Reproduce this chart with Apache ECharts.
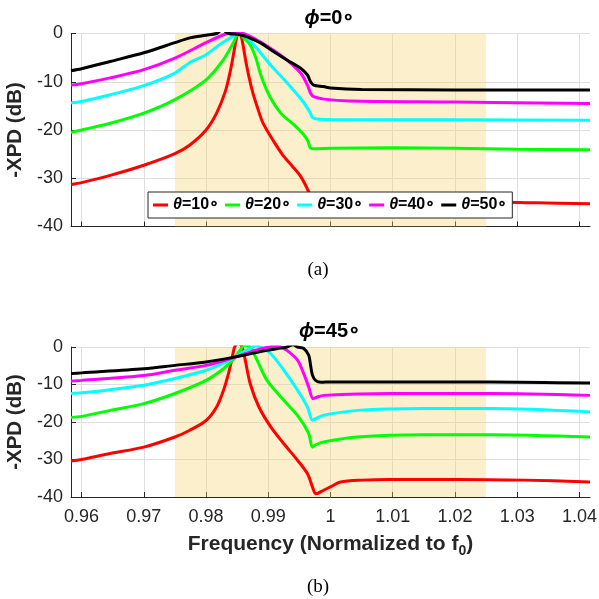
<!DOCTYPE html>
<html>
<head>
<meta charset="utf-8">
<script src="https://cdn.jsdelivr.net/npm/echarts@6/dist/echarts.min.js"></script>
<style>
  html,body{margin:0;padding:0;background:#fff}
  #c{width:599px;height:599px}
</style>
</head>
<body>
<div id="c"></div>
<script>
// ── data: [normalized frequency, -XPD dB] ──
const xTicks = [0.96, 0.97, 0.98, 0.99, 1.00, 1.01, 1.02, 1.03, 1.04];
const yTicks = [0, -10, -20, -30, -40];
const names = ['θ=10∘', 'θ=20∘', 'θ=30∘', 'θ=40∘', 'θ=50∘'];
const colors = ['#ff0000', '#00ff00', '#00ffff', '#ff00ff', '#000000'];
const band = [0.975, 1.025];

// phi = 0
const red0 = [[0.9583,-31.3],[0.96,-30.9],[0.9646,-29.4],[0.97,-27.3],[0.975,-24.9],[0.9774,-23.1],[0.98,-20.0],
  [0.9817,-16.5],[0.9831,-12.0],[0.9839,-7.8],[0.9845,-3.7],[0.9849,-0.9],[0.9853,0.6],[0.9857,-0.8],[0.986,-2.8],
  [0.9863,-5.1],[0.9869,-9.0],[0.9875,-12.2],[0.9883,-15.5],[0.9891,-18.4],[0.9908,-22.2],[0.9924,-25.3],
  [0.9938,-27.4],[0.9952,-29.6],[0.9965,-32.8],[0.9971,-35.0],[0.9976,-36.6],[0.9983,-36.4],[0.9995,-36.0],
  [1.002,-35.7],[1.008,-35.3],[1.015,-35.0],[1.025,-34.9],[1.033,-35.1],[1.0417,-35.3]];
const green0 = [[0.9583,-20.5],[0.96,-20.0],[0.9646,-18.6],[0.97,-16.5],[0.975,-13.7],[0.98,-9.6],[0.9828,-5.4],
  [0.9844,-1.9],[0.9853,0.1],[0.986,-0.8],[0.9871,-2.4],[0.988,-5.1],[0.9888,-8.6],[0.9901,-12.7],[0.992,-16.5],
  [0.9941,-18.9],[0.9957,-21.0],[0.9964,-22.4],[0.9968,-23.8],[0.9975,-23.9],[1.0,-23.8],[1.01,-23.7],
  [1.02,-23.8],[1.03,-24.0],[1.0417,-24.1]];
const cyan0 = [[0.9583,-14.4],[0.96,-14.1],[0.9646,-12.7],[0.97,-10.8],[0.975,-8.2],[0.9774,-6.0],[0.98,-4.4],
  [0.9823,-2.2],[0.9843,-0.6],[0.9853,0.1],[0.9863,-0.5],[0.9882,-3.1],[0.9904,-6.6],[0.993,-10.2],[0.9957,-14.3],
  [0.9968,-16.6],[0.9971,-17.4],[0.9978,-17.7],[1.0,-17.8],[1.02,-17.9],[1.0417,-18.0]];
const magenta0 = [[0.9583,-10.7],[0.96,-10.4],[0.9646,-9.2],[0.97,-7.5],[0.975,-5.1],[0.98,-1.9],[0.9833,0],
  [0.9845,0.3],[0.9858,0.1],[0.9877,-1.0],[0.9904,-3.1],[0.993,-5.5],[0.9952,-8.2],[0.9963,-10.7],[0.9968,-12.4],
  [0.9973,-13.1],[0.9989,-13.6],[1.003,-14.0],[1.02,-14.2],[1.0417,-14.5]];
const black0 = [[0.9583,-7.7],[0.96,-7.3],[0.9646,-5.8],[0.97,-4.0],[0.975,-1.9],[0.9774,-0.9],[0.98,-0.35],
  [0.9817,0],[0.9826,0.8],[0.9836,0],[0.9853,-0.2],[0.9866,-0.7],[0.9888,-2.0],[0.9909,-3.8],[0.993,-5.5],
  [0.9952,-7.2],[0.9963,-8.6],[0.9968,-10.0],[0.9973,-10.7],[0.9989,-11.0],[1.0,-11.3],[1.005,-11.6],
  [1.02,-11.7],[1.0417,-11.7]];

// phi = 45
const red45 = [[0.9583,-30.4],[0.96,-30.0],[0.9646,-28.4],[0.97,-26.7],[0.975,-24.0],[0.9774,-22.2],[0.98,-19.6],
  [0.9817,-16.0],[0.9828,-11.6],[0.9836,-7.1],[0.9841,-3.6],[0.9846,0],[0.9852,1.0],[0.9858,0],[0.9863,-3.5],
  [0.9871,-9.8],[0.9885,-16.0],[0.9904,-21.3],[0.9925,-25.8],[0.9947,-30.2],[0.9963,-33.8],[0.9971,-37.3],
  [0.9976,-39.1],[0.998,-39.0],[0.9989,-38.2],[1.0,-37.3],[1.0016,-36.0],[1.005,-35.5],[1.0096,-35.3],
  [1.0204,-35.3],[1.0311,-35.5],[1.0417,-36.0]];
const green45 = [[0.9583,-18.8],[0.96,-18.5],[0.9646,-16.9],[0.97,-15.1],[0.975,-12.4],[0.98,-8.9],[0.9828,-5.8],
  [0.9845,-3.1],[0.9855,-0.8],[0.9862,0.5],[0.9871,0],[0.9882,-3.5],[0.9898,-8.9],[0.9925,-14.2],[0.9949,-18.7],
  [0.9965,-23.1],[0.9971,-26.7],[0.9977,-26.0],[0.9989,-25.3],[1.0043,-24.0],[1.015,-23.4],[1.0257,-23.4],
  [1.0417,-24.0]];
const cyan45 = [[0.9583,-12.4],[0.96,-12.2],[0.9646,-11.4],[0.97,-10.2],[0.975,-8.4],[0.98,-6.2],[0.9828,-4.3],
  [0.9845,-2.8],[0.986,-1.3],[0.9875,0],[0.988,0.4],[0.9887,0],[0.9904,-1.8],[0.9925,-6.2],[0.9947,-11.5],
  [0.9963,-16.0],[0.9971,-19.5],[0.9978,-19.0],[0.9989,-18.2],[1.0043,-16.9],[1.015,-16.4],[1.0257,-16.4],
  [1.0417,-17.3]];
const magenta45 = [[0.9583,-9.1],[0.96,-8.9],[0.97,-7.6],[0.975,-6.2],[0.98,-4.9],[0.9845,-2.8],[0.987,-1.4],
  [0.989,-0.4],[0.9902,0],[0.991,0.3],[0.992,0],[0.993,-0.9],[0.9947,-3.5],[0.9957,-7.1],[0.9965,-10.7],
  [0.9972,-13.8],[0.9978,-13.4],[0.9989,-12.9],[1.0096,-12.4],[1.0257,-12.4],[1.0417,-12.9]];
const black45 = [[0.9583,-7.1],[0.96,-6.9],[0.97,-5.8],[0.975,-4.9],[0.98,-4.0],[0.9845,-2.7],[0.9898,-0.9],
  [0.992,-0.3],[0.993,0],[0.994,0.6],[0.9947,0],[0.9957,-0.4],[0.9965,-2.2],[0.9968,-4.9],[0.9971,-7.5],
  [0.9976,-8.9],[0.9985,-9.4],[1.0,-9.3],[1.0096,-9.3],[1.0257,-9.3],[1.0417,-9.6]];

const top0 = [red0, green0, cyan0, magenta0, black0];
const bot45 = [red45, green45, cyan45, magenta45, black45];

// ── style ──
const F = "'Liberation Sans', Arial, Helvetica, sans-serif";
const AX = '#262626';
const GRIDC = '#dedede';
const SHADE = 'rgba(248,212,115,0.36)';

const chart = echarts.init(document.getElementById('c'));

const xAxis = (gi, withLabels) => ({
  type: 'value', gridIndex: gi, min: 0.9583, max: 1.0417,
  axisLine: { show: true, onZero: false, lineStyle: { color: AX, width: 1 } },
  axisTick: { show: true, inside: true, length: 5, customValues: xTicks, lineStyle: { color: AX } },
  axisLabel: { show: withLabels, customValues: xTicks, color: AX, fontSize: 18, fontFamily: F, margin: 11,
    formatter: v => String(+(+v).toFixed(2)) },
  splitLine: { show: true, lineStyle: { color: GRIDC, width: 1 } },
  name: withLabels ? '{a|Frequency (Normalized to f}{s|0}{a|)}' : '',
  nameLocation: 'middle', nameGap: 33,
  nameTextStyle: { rich: {
    a: { fontSize: 21, fontWeight: 'bold', fontFamily: F, color: AX },
    s: { fontSize: 14, fontWeight: 'bold', fontFamily: F, color: AX, padding: [14, 0, 0, 0] } } }
});
const yAxis = gi => ({
  type: 'value', gridIndex: gi, min: -40, max: 0, interval: 10,
  axisLine: { show: true, onZero: false, lineStyle: { color: AX, width: 1 } },
  axisTick: { show: true, inside: true, length: 5, lineStyle: { color: AX } },
  axisLabel: { color: AX, fontSize: 18, fontFamily: F, margin: 8 },
  splitLine: { show: true, lineStyle: { color: GRIDC, width: 1 } },
  name: '-XPD (dB)', nameLocation: 'middle', nameRotate: 90, nameGap: 36,
  nameTextStyle: { fontSize: 20.5, fontWeight: 'bold', fontFamily: F, color: AX }
});

const series = [];
[0, 1].forEach(gi => {
  series.push({ type: 'line', xAxisIndex: gi, yAxisIndex: gi, data: [], z: 1, silent: true,
    markArea: { silent: true, itemStyle: { color: SHADE }, data: [[{ xAxis: band[0] }, { xAxis: band[1] }]] } });
  (gi === 0 ? top0 : bot45).forEach((d, i) => series.push({
    type: 'line', name: names[i], xAxisIndex: gi, yAxisIndex: gi, data: d, z: 2 + i,
    showSymbol: false, clip: true, smooth: 0.3,
    lineStyle: { color: colors[i], width: 3 }, itemStyle: { color: colors[i] }
  }));
});

const title = (txt, y) => ({
  type: 'text', style: {
    text: '{p|ϕ}{n|' + txt + '}', x: 330, y: y, textAlign: 'center', textVerticalAlign: 'middle',
    rich: { p: { fontSize: 20, fontWeight: 'bold', fontStyle: 'italic', fontFamily: F, fill: '#000' },
            n: { fontSize: 20, fontWeight: 'bold', fontFamily: F, fill: '#000' } } }
});
const caption = (txt, y) => ({
  type: 'text', style: { text: txt, x: 318, y: y, textAlign: 'center', textVerticalAlign: 'middle',
    font: "19px 'Liberation Serif', 'Times New Roman', serif", fill: '#000' }
});

chart.setOption({
  animation: false,
  grid: [
    { left: 71, right: 9, top: 33.5, height: 193, outerBoundsMode: 'none' },
    { left: 71, right: 9, top: 347, height: 150, outerBoundsMode: 'none' }
  ],
  xAxis: [xAxis(0, false), xAxis(1, true)],
  yAxis: [yAxis(0), yAxis(1)],
  legend: {
    data: names, left: 148, top: 192, icon: 'rect', itemWidth: 15, itemHeight: 3, itemGap: 6,
    backgroundColor: '#fff', borderColor: AX, borderWidth: 1, borderRadius: 0, padding: [5, 5],
    formatter: n => '{t|θ}{n|' + n.slice(1) + '}',
    textStyle: { rich: {
      t: { fontSize: 16, fontWeight: 'bold', fontStyle: 'italic', fontFamily: F, color: '#000' },
      n: { fontSize: 16, fontWeight: 'bold', fontFamily: F, color: '#000' } } }
  },
  graphic: [title('=0∘', 18), title('=45∘', 331), caption('(a)', 270), caption('(b)', 587)],
  series: series
});
</script>
</body>
</html>
